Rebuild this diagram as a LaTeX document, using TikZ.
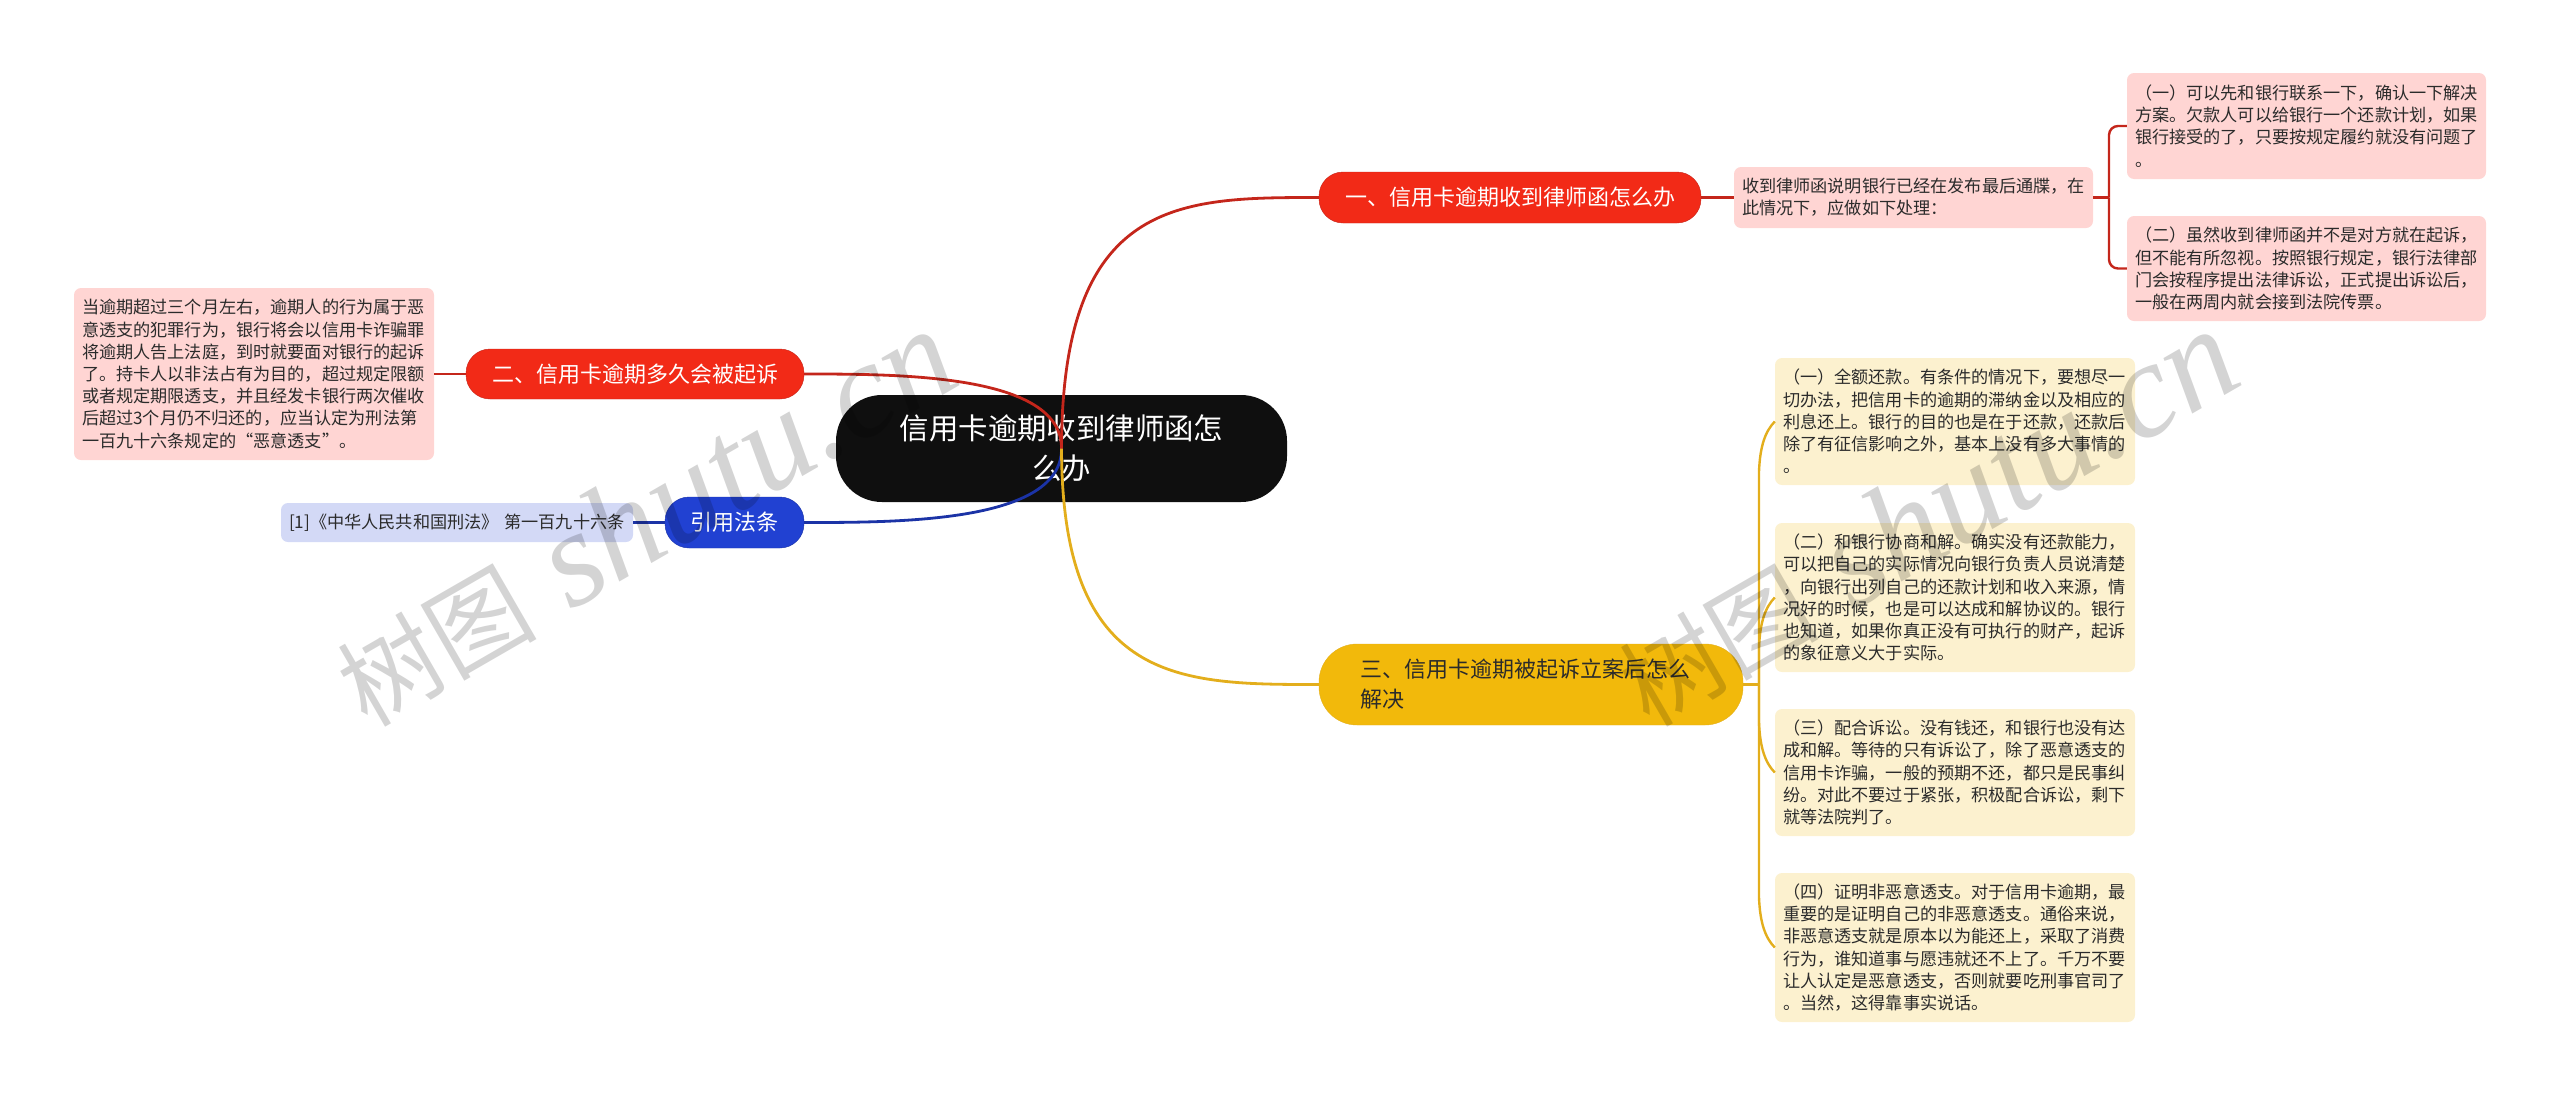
\documentclass[tikz,border=0pt]{standalone}
\usepackage{fontspec}
\setmainfont{Noto Sans CJK SC}
\newfontfamily\markfont{Liberation Serif}
\usepackage{xcolor}
\usetikzlibrary{calc}
\definecolor{redmain}{HTML}{F22A17}
\definecolor{redline}{HTML}{C4261B}
\definecolor{redpale}{HTML}{FFD5D3}
\definecolor{yellowmain}{HTML}{F2B90B}
\definecolor{yellowline}{HTML}{E3AE1C}
\definecolor{yellowpale}{HTML}{FCF1CF}
\definecolor{bluemain}{HTML}{2141D2}
\definecolor{blueline}{HTML}{1B33A6}
\definecolor{bluepale}{HTML}{D3D9F6}
\definecolor{inktext}{HTML}{2B2B2B}
\newcommand{\marktext}{树图{\fontsize{136}{140}\selectfont\markfont\itshape\ shutu.cn}}
\tikzset{
  pill/.style={rectangle,rounded corners=24pt,text=white,inner sep=0pt,
    font=\fontsize{22}{30}\selectfont,align=center},
  note/.style={rectangle,rounded corners=7pt,text=inktext,inner xsep=8pt,inner ysep=0pt,
    font=\fontsize{17.15}{22.2}\selectfont,align=left},
  branch/.style={line width=2.8pt},
  twig/.style={line width=2.4pt},
  watermark/.style={text=black,text opacity=0.17,rotate=30,inner sep=0pt,font=\fontsize{100}{130}\selectfont}
}
\begin{document}
\begin{tikzpicture}[x=1pt,y=-1pt]
  \useasboundingbox (0,0) rectangle (2560,1096);
  \node[pill,fill=black!94,rounded corners=46pt,minimum width=451pt,minimum height=107pt,font=\fontsize{29.4}{40}\selectfont](root) at (1061.5,448.5) {信用卡逾期收到律师函怎\\么办};
  % right side, red
  \node[pill,fill=redmain,draw=redline,minimum width=382pt,minimum height=51pt](one) at (1510,197.5) {一、信用卡逾期收到律师函怎么办};
  \node[note,fill=redpale,text width=343pt,minimum height=61pt](oneD) at (1913.5,197.5) {收到律师函说明银行已经在发布最后通牒，在\\此情况下，应做如下处理：};
  \node[note,fill=redpale,text width=343pt,minimum height=106pt](oneA) at (2306.5,126) {（一）可以先和银行联系一下，确认一下解决\\方案。欠款人可以给银行一个还款计划，如果\\银行接受的了，只要按规定履约就没有问题了\\。};
  \node[note,fill=redpale,text width=343pt,minimum height=105pt](oneB) at (2306.5,268.5) {（二）虽然收到律师函并不是对方就在起诉，\\但不能有所忽视。按照银行规定，银行法律部\\门会按程序提出法律诉讼，正式提出诉讼后，\\一般在两周内就会接到法院传票。};
  \coordinate(oneJ) at (2109,197.5);
  % right side, yellow
  \node[pill,fill=yellowmain,draw=yellowline,rounded corners=38pt,minimum width=424pt,minimum height=81pt,text=inktext,text width=342pt,align=left](three) at (1531,684.5) {三、信用卡逾期被起诉立案后怎么\\解决};
  \node[note,fill=yellowpale,text width=344pt,minimum height=127pt](threeA) at (1955,421.5) {（一）全额还款。有条件的情况下，要想尽一\\切办法，把信用卡的逾期的滞纳金以及相应的\\利息还上。银行的目的也是在于还款，还款后\\除了有征信影响之外，基本上没有多大事情的\\。};
  \node[note,fill=yellowpale,text width=344pt,minimum height=149pt](threeB) at (1955,597.5) {（二）和银行协商和解。确实没有还款能力，\\可以把自己的实际情况向银行负责人员说清楚\\，向银行出列自己的还款计划和收入来源，情\\况好的时候，也是可以达成和解协议的。银行\\也知道，如果你真正没有可执行的财产，起诉\\的象征意义大于实际。};
  \node[note,fill=yellowpale,text width=344pt,minimum height=127pt](threeC) at (1955,772.5) {（三）配合诉讼。没有钱还，和银行也没有达\\成和解。等待的只有诉讼了，除了恶意透支的\\信用卡诈骗，一般的预期不还，都只是民事纠\\纷。对此不要过于紧张，积极配合诉讼，剩下\\就等法院判了。};
  \node[note,fill=yellowpale,text width=344pt,minimum height=149pt](threeD) at (1955,947.5) {（四）证明非恶意透支。对于信用卡逾期，最\\重要的是证明自己的非恶意透支。通俗来说，\\非恶意透支就是原本以为能还上，采取了消费\\行为，谁知道事与愿违就还不上了。千万不要\\让人认定是恶意透支，否则就要吃刑事官司了\\。当然，这得靠事实说话。};
  \coordinate(threeJ) at (1759,684.5);
  % left side
  \node[pill,fill=redmain,draw=redline,minimum width=338pt,minimum height=50pt](two) at (635,374) {二、信用卡逾期多久会被起诉};
  \node[note,fill=redpale,text width=344pt,minimum height=172pt](twoD) at (254,374) {当逾期超过三个月左右，逾期人的行为属于恶\\意透支的犯罪行为，银行将会以信用卡诈骗罪\\将逾期人告上法庭，到时就要面对银行的起诉\\了。持卡人以非法占有为目的，超过规定限额\\或者规定期限透支，并且经发卡银行两次催收\\后超过3个月仍不归还的，应当认定为刑法第\\一百九十六条规定的“恶意透支”。};
  \node[pill,fill=bluemain,draw=blueline,minimum width=139pt,minimum height=51pt](law) at (734.5,522.5) {引用法条};
  \node[note,fill=bluepale,text width=336pt,minimum height=39pt](lawD) at (457,522.5) {[1]《中华人民共和国刑法》 第一百九十六条};
  % curves out of the root
  \draw[branch,blueline] (root.center) .. controls (1062,522.5) and (900,522.5) .. (law.east);
  \draw[branch,redline] (root.center) .. controls (1062,374) and (900,374) .. (two.east);
  \draw[branch,redline] (root.center) .. controls (1062,197.5) and (1180,197.5) .. (one.west);
  \draw[branch,yellowline] (root.center) .. controls (1062,684.5) and (1180,684.5) .. (three.west);
  % short links
  \draw[branch,blueline] (law.west) -- (lawD.east);
  \draw[branch,redline] (two.west) -- (twoD.east);
  \draw[branch,redline] (one.east) -- (oneD.west);
  \draw[branch,yellowline] (three.east) -- (threeJ);
  \draw[twig,redline] (oneD.east) -- (oneJ);
  \draw[twig,redline,rounded corners=9pt] (oneJ) |- (oneA.west);
  \draw[twig,redline,rounded corners=9pt] (oneJ) |- (oneB.west);
  \draw[twig,yellowline] (threeJ) -- ($(threeJ |- threeA.west)+(0,50)$) .. controls ($(threeJ |- threeA.west)+(1,25)$) and ($(threeJ |- threeA.west)+(6,10)$) .. (threeA.west);
  \draw[twig,yellowline] (threeJ) -- ($(threeJ |- threeB.west)+(0,50)$) .. controls ($(threeJ |- threeB.west)+(1,25)$) and ($(threeJ |- threeB.west)+(6,10)$) .. (threeB.west);
  \draw[twig,yellowline] (threeJ) -- ($(threeJ |- threeC.west)+(0,-50)$) .. controls ($(threeJ |- threeC.west)+(1,-25)$) and ($(threeJ |- threeC.west)+(6,-10)$) .. (threeC.west);
  \draw[twig,yellowline] (threeJ) -- ($(threeJ |- threeD.west)+(0,-50)$) .. controls ($(threeJ |- threeD.west)+(1,-25)$) and ($(threeJ |- threeD.west)+(6,-10)$) .. (threeD.west);
  % site marks
  \node[watermark](markA) at (645,518) {\marktext};
  \node[watermark](markB) at (1927,518) {\marktext};
\end{tikzpicture}
\end{document}
